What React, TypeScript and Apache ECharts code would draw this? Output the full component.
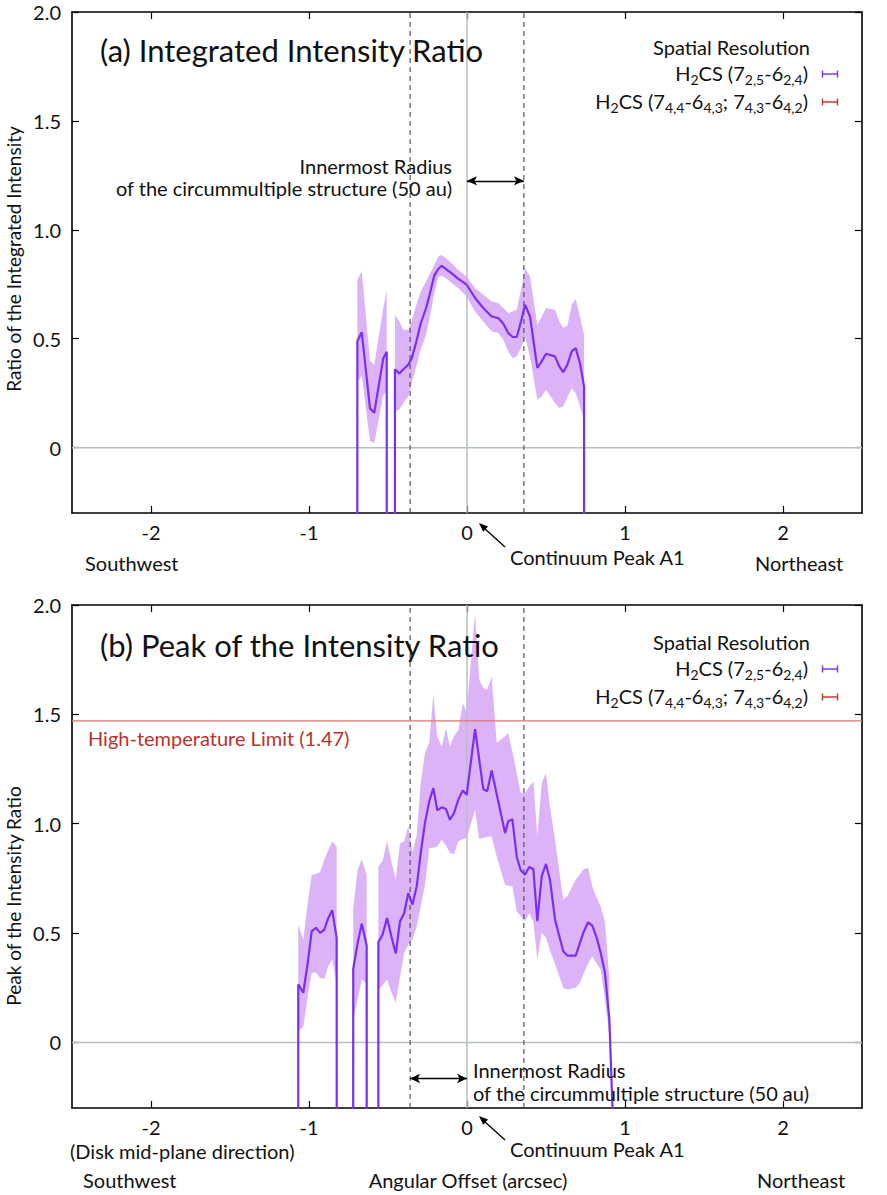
import React, { useEffect, useRef } from "react";
import * as echarts from "echarts";

const W = 887;
const H = 1195;
const FONT = "Lato, 'Noto Sans', sans-serif";
const LINE = "#7b2ff2";
const BAND = "#dcb3f7";
const GRAYLINE = "#b6c1bd";
const RED_LINE = "#d9776f";
const RED_TEXT = "#b8322a";
const LEG_PURPLE = "#7b3ff0";
const LEG_RED = "#c4402f";

// off-scale value: the ratio is undefined there and the curve drops below the axis
const B = -100;

// ---- (a) Integrated intensity ratio ----
const offA = [-0.72, -0.694, -0.666, -0.614, -0.587, -0.53, -0.508, -0.48, -0.456, -0.428, -0.403, -0.372, -0.35, -0.323, -0.293, -0.259, -0.234, -0.207, -0.182, -0.16, -0.133, -0.097, -0.055, -0.002, 0.051, 0.103, 0.156, 0.198, 0.23, 0.261, 0.289, 0.315, 0.342, 0.367, 0.399, 0.445, 0.473, 0.5, 0.557, 0.584, 0.609, 0.635, 0.663, 0.688, 0.715, 0.741, 0.77];
const ratioA = [B, 0.49, 0.53, 0.18, 0.16, 0.41, 0.44, B, 0.36, 0.34, 0.36, 0.38, 0.41, 0.48, 0.57, 0.64, 0.71, 0.79, 0.82, 0.835, 0.82, 0.8, 0.775, 0.748, 0.687, 0.641, 0.602, 0.595, 0.569, 0.526, 0.508, 0.508, 0.579, 0.656, 0.602, 0.366, 0.396, 0.431, 0.419, 0.373, 0.346, 0.381, 0.442, 0.457, 0.388, 0.281, B];
const loA = [null, 0.3, 0.33, 0.03, 0.02, 0.24, 0.26, null, 0.167, 0.174, 0.205, 0.235, 0.297, 0.366, 0.45, 0.518, 0.602, 0.709, 0.783, 0.789, 0.778, 0.756, 0.732, 0.694, 0.625, 0.579, 0.534, 0.526, 0.495, 0.442, 0.411, 0.419, 0.457, 0.511, 0.419, 0.22, 0.235, 0.266, 0.205, 0.182, 0.19, 0.23, 0.274, 0.25, 0.19, 0.12, null];
const hiA = [null, 0.77, 0.81, 0.4, 0.38, 0.64, 0.72, null, 0.61, 0.579, 0.541, 0.541, 0.579, 0.65, 0.717, 0.763, 0.8, 0.84, 0.878, 0.885, 0.87, 0.845, 0.815, 0.786, 0.732, 0.702, 0.671, 0.664, 0.641, 0.618, 0.625, 0.633, 0.725, 0.824, 0.786, 0.564, 0.602, 0.641, 0.633, 0.579, 0.55, 0.56, 0.656, 0.682, 0.602, 0.518, null];

// ---- (b) Peak of the intensity ratio ----
const offB = [-1.09, -1.068, -1.036, -1.011, -0.983, -0.956, -0.93, -0.903, -0.878, -0.853, -0.825, -0.77, -0.72, -0.692, -0.666, -0.635, -0.6, -0.561, -0.534, -0.506, -0.479, -0.451, -0.424, -0.397, -0.372, -0.345, -0.318, -0.293, -0.266, -0.239, -0.213, -0.188, -0.16, -0.133, -0.108, -0.082, -0.055, -0.027, -0.002, 0.051, 0.077, 0.103, 0.128, 0.156, 0.188, 0.241, 0.261, 0.287, 0.315, 0.34, 0.367, 0.394, 0.42, 0.445, 0.473, 0.5, 0.525, 0.557, 0.609, 0.635, 0.688, 0.715, 0.736, 0.766, 0.793, 0.821, 0.846, 0.873, 0.901, 0.928];
const ratioB = [B, 0.265, 0.227, 0.348, 0.508, 0.524, 0.501, 0.516, 0.569, 0.604, 0.478, B, 0.337, 0.455, 0.543, 0.443, B, 0.458, 0.493, 0.569, 0.485, 0.406, 0.554, 0.592, 0.683, 0.63, 0.714, 0.866, 1.003, 1.102, 1.163, 1.061, 1.075, 1.067, 1.018, 1.049, 1.11, 1.152, 1.132, 1.432, 1.295, 1.158, 1.148, 1.243, 1.135, 0.957, 1.011, 1.021, 0.848, 0.787, 0.767, 0.802, 0.793, 0.554, 0.76, 0.816, 0.744, 0.562, 0.417, 0.397, 0.397, 0.455, 0.501, 0.549, 0.534, 0.478, 0.41, 0.318, 0.105, -0.45];
const loB = [null, 0.052, 0.07, 0.196, 0.318, 0.32, 0.295, 0.29, 0.348, 0.379, 0.273, null, 0.105, 0.196, 0.288, 0.27, null, 0.242, 0.26, 0.288, 0.23, 0.181, 0.3, 0.41, 0.447, 0.47, 0.53, 0.62, 0.72, 0.889, 0.89, 0.896, 0.927, 0.9, 0.866, 0.86, 0.919, 0.93, 0.934, 1.064, 0.93, 0.935, 0.94, 0.942, 0.85, 0.721, 0.716, 0.714, 0.6, 0.577, 0.554, 0.592, 0.55, 0.379, 0.501, 0.48, 0.42, 0.36, 0.25, 0.242, 0.25, 0.273, 0.311, 0.36, 0.394, 0.36, 0.333, 0.2, 0.03, null];
const hiB = [null, 0.539, 0.47, 0.62, 0.767, 0.77, 0.778, 0.836, 0.88, 0.919, 0.896, null, 0.615, 0.79, 0.836, 0.767, null, 0.805, 0.83, 0.919, 0.83, 0.744, 0.91, 0.92, 0.988, 0.87, 0.95, 1.186, 1.323, 1.37, 1.589, 1.399, 1.353, 1.437, 1.353, 1.4, 1.429, 1.551, 1.513, 1.96, 1.658, 1.62, 1.612, 1.673, 1.37, 1.4, 1.414, 1.33, 1.231, 1.14, 1.14, 1.17, 1.193, 0.942, 1.186, 1.231, 1.079, 0.927, 0.653, 0.668, 0.744, 0.77, 0.79, 0.798, 0.714, 0.66, 0.622, 0.55, 0.29, null];

const X_TICKS = [-2, -1, 0, 1, 2];
const Y_TICKS = [0, 0.5, 1.0, 1.5, 2.0];
const X_MIN = -2.5;
const X_MAX = 2.5;
const Y_MIN = -0.3;
const Y_MAX = 2.0;
const CENTER = 0;
const INNER_R = 0.36;
const HIGH_T = 1.47;
const ARROW_A_Y = 1.225;
const ARROW_B_Y = -0.165;

function runsOf(lo: (number | null)[], hi: (number | null)[]) {
  const out: number[][] = [];
  let cur: number[] | null = null;
  for (let i = 0; i < lo.length; i++) {
    if (lo[i] != null && hi[i] != null) {
      if (!cur) {
        cur = [];
        out.push(cur);
      }
      cur.push(i);
    } else cur = null;
  }
  return out;
}

function xAx(grid: number, pos: string) {
  return {
    type: "value",
    gridIndex: grid,
    position: pos,
    min: X_MIN,
    max: X_MAX,
    axisLine: { show: true, onZero: false, lineStyle: { color: "#000", width: 1.6 } },
    axisTick: { show: true, inside: true, length: 7, customValues: X_TICKS, lineStyle: { color: "#000", width: 1.2 } },
    axisLabel: {
      show: pos === "bottom",
      customValues: X_TICKS,
      margin: 9,
      fontSize: 20,
      fontFamily: FONT,
      color: "#111",
      formatter: (v: number) => String(v),
    },
    splitLine: { show: false },
  };
}

function yAx(grid: number, pos: string) {
  return {
    type: "value",
    gridIndex: grid,
    position: pos,
    min: Y_MIN,
    max: Y_MAX,
    axisLine: { show: true, onZero: false, lineStyle: { color: "#000", width: 1.6 } },
    axisTick: { show: true, inside: true, length: 7, customValues: Y_TICKS, lineStyle: { color: "#000", width: 1.2 } },
    axisLabel: {
      show: pos === "left",
      customValues: Y_TICKS,
      margin: 11,
      fontSize: 20,
      fontFamily: FONT,
      color: "#111",
      formatter: (v: number) => (v === 0 ? "0" : v.toFixed(1)),
    },
    splitLine: { show: false },
  };
}

function panelSeries(ax: number, off: number[], ratio: number[], lo: (number | null)[], hi: (number | null)[], extra: any[]) {
  const runs = runsOf(lo, hi);
  const ref = (pts: number[][], color: string, width: number, type: any, z: number) => ({
    type: "line",
    xAxisIndex: ax,
    yAxisIndex: ax,
    data: pts,
    symbol: "none",
    silent: true,
    clip: true,
    z,
    lineStyle: { color, width, type },
  });
  return [
    {
      type: "custom",
      xAxisIndex: ax,
      yAxisIndex: ax,
      clip: true,
      silent: true,
      z: 1,
      data: runs.map((_, i) => [i, 0]),
      renderItem: (params: any, api: any) => {
        const run = runs[params.dataIndex];
        const up = run.map((i) => api.coord([off[i], hi[i]]));
        const dn = run
          .slice()
          .reverse()
          .map((i) => api.coord([off[i], lo[i]]));
        return { type: "polygon", shape: { points: up.concat(dn) }, style: { fill: BAND } };
      },
    },
    ref([[X_MIN, 0], [X_MAX, 0]], GRAYLINE, 1.5, "solid", 2),
    ref([[CENTER, Y_MIN], [CENTER, Y_MAX]], GRAYLINE, 1.5, "solid", 2),
    ref([[-INNER_R, Y_MIN], [-INNER_R, Y_MAX]], "#555", 1.2, [5, 4], 3),
    ref([[INNER_R, Y_MIN], [INNER_R, Y_MAX]], "#555", 1.2, [5, 4], 3),
    ...extra.map((e) => ({ ...ref(e.pts, e.color, e.width, "solid", 3) })),
    {
      type: "line",
      xAxisIndex: ax,
      yAxisIndex: ax,
      data: off.map((x, i) => [x, ratio[i]]),
      symbol: "none",
      showSymbol: false,
      silent: true,
      clip: true,
      z: 5,
      lineStyle: { color: LINE, width: 2.2 },
    },
  ];
}

function arrowSeries(ax: number, x1: number, x2: number, y: number) {
  return {
    type: "line",
    xAxisIndex: ax,
    yAxisIndex: ax,
    data: [],
    z: 6,
    markLine: {
      silent: true,
      symbol: ["arrow", "arrow"],
      symbolSize: [7, 10],
      label: { show: false },
      lineStyle: { color: "#000", width: 1.3, type: "solid" },
      data: [[{ coord: [x1, y] }, { coord: [x2, y] }]],
    },
  };
}

const txt = (x: number, y: number, text: string, o: any = {}) => ({
  type: "text",
  x,
  y,
  rotation: o.rot || 0,
  silent: true,
  z: 10,
  style: {
    text,
    fontSize: o.size || 20,
    fontFamily: FONT,
    fill: o.color || "#111",
    align: o.align || "left",
    verticalAlign: "middle",
  },
});

const RICH = {
  n: { fontSize: 20, fontFamily: FONT, fill: "#111", lineHeight: 26 },
  s: { fontSize: 14, fontFamily: FONT, fill: "#111", lineHeight: 12, verticalAlign: "bottom" },
};
const LEG1 = "{n|H}{s|2}{n|CS (7}{s|2,5}{n|-6}{s|2,4}{n|)}";
const LEG2 = "{n|H}{s|2}{n|CS (7}{s|4,4}{n|-6}{s|4,3}{n|; 7}{s|4,3}{n|-6}{s|4,2}{n|)}";

const richTxt = (x: number, y: number, text: string) => ({
  type: "text",
  x,
  y,
  silent: true,
  z: 10,
  style: { text, rich: RICH, fill: "#111", align: "right", verticalAlign: "middle", fontSize: 20, fontFamily: FONT },
});

const errBar = (y: number, color: string) => [
  { type: "line", silent: true, z: 10, shape: { x1: 822, y1: y, x2: 838, y2: y }, style: { stroke: color, lineWidth: 1.5 } },
  { type: "line", silent: true, z: 10, shape: { x1: 822.5, y1: y - 3.5, x2: 822.5, y2: y + 3.5 }, style: { stroke: color, lineWidth: 1.5 } },
  { type: "line", silent: true, z: 10, shape: { x1: 837.5, y1: y - 3.5, x2: 837.5, y2: y + 3.5 }, style: { stroke: color, lineWidth: 1.5 } },
];

const peakArrow = (dy: number) => [
  { type: "line", silent: true, z: 10, shape: { x1: 505, y1: 547 + dy, x2: 484, y2: 528 + dy }, style: { stroke: "#000", lineWidth: 1.3 } },
  {
    type: "polygon",
    silent: true,
    z: 10,
    shape: { points: [[479, 523 + dy], [488, 526.5 + dy], [483.2, 531.7 + dy]] },
    style: { fill: "#000" },
  },
];

function legend(dy: number) {
  return [
    txt(810, 47 + dy, "Spatial Resolution", { align: "right" }),
    richTxt(808, 73 + dy, LEG1),
    richTxt(808, 101 + dy, LEG2),
    ...errBar(74 + dy, LEG_PURPLE),
    ...errBar(102 + dy, LEG_RED),
  ];
}

export default function App() {
  const ref = useRef<HTMLDivElement>(null);
  useEffect(() => {
    if (!ref.current) return;
    const chart = echarts.init(ref.current, undefined, { renderer: "svg", width: W, height: H });
    const option: any = {
      animation: false,
      backgroundColor: "#fff",
      grid: [
        { left: 72, top: 12, width: 790, height: 501 },
        { left: 72, top: 605, width: 790, height: 503 },
      ],
      xAxis: [xAx(0, "bottom"), xAx(0, "top"), xAx(1, "bottom"), xAx(1, "top")],
      yAxis: [yAx(0, "left"), yAx(0, "right"), yAx(1, "left"), yAx(1, "right")],
      series: [
        ...panelSeries(0, offA, ratioA, loA, hiA, []),
        ...panelSeries(2, offB, ratioB, loB, hiB, [{ pts: [[X_MIN, HIGH_T], [X_MAX, HIGH_T]], color: RED_LINE, width: 1.3 }]),
        arrowSeries(0, CENTER, INNER_R, ARROW_A_Y),
        arrowSeries(2, -INNER_R, CENTER, ARROW_B_Y),
      ],
      graphic: [
        // panel (a)
        txt(100, 50, "(a) Integrated Intensity Ratio", { size: 31 }),
        ...legend(0),
        txt(452, 166, "Innermost Radius", { align: "right" }),
        txt(452, 188, "of the circummultiple structure (50 au)", { align: "right" }),
        txt(85, 563, "Southwest"),
        txt(755, 563, "Northeast"),
        txt(510, 557, "Continuum Peak A1"),
        ...peakArrow(0),
        txt(13, 259, "Ratio of the Integrated Intensity", { align: "center", rot: Math.PI / 2, size: 19 }),
        // panel (b)
        txt(100, 645, "(b) Peak of the Intensity Ratio", { size: 31 }),
        ...legend(595),
        txt(88, 738, "High-temperature Limit (1.47)", { color: RED_TEXT }),
        txt(473, 1070, "Innermost Radius"),
        txt(473, 1093, "of the circummultiple structure (50 au)"),
        txt(70, 1151, "(Disk mid-plane direction)"),
        txt(510, 1149, "Continuum Peak A1"),
        ...peakArrow(593),
        txt(83, 1180, "Southwest"),
        txt(468, 1180, "Angular Offset (arcsec)", { align: "center" }),
        txt(757, 1180, "Northeast"),
        txt(13, 896, "Peak of the Intensity Ratio", { align: "center", rot: Math.PI / 2, size: 19 }),
      ],
    };
    chart.setOption(option);
    return () => chart.dispose();
  }, []);
  return <div ref={ref} style={{ position: "fixed", left: 0, top: 0, width: W, height: H }} />;
}
